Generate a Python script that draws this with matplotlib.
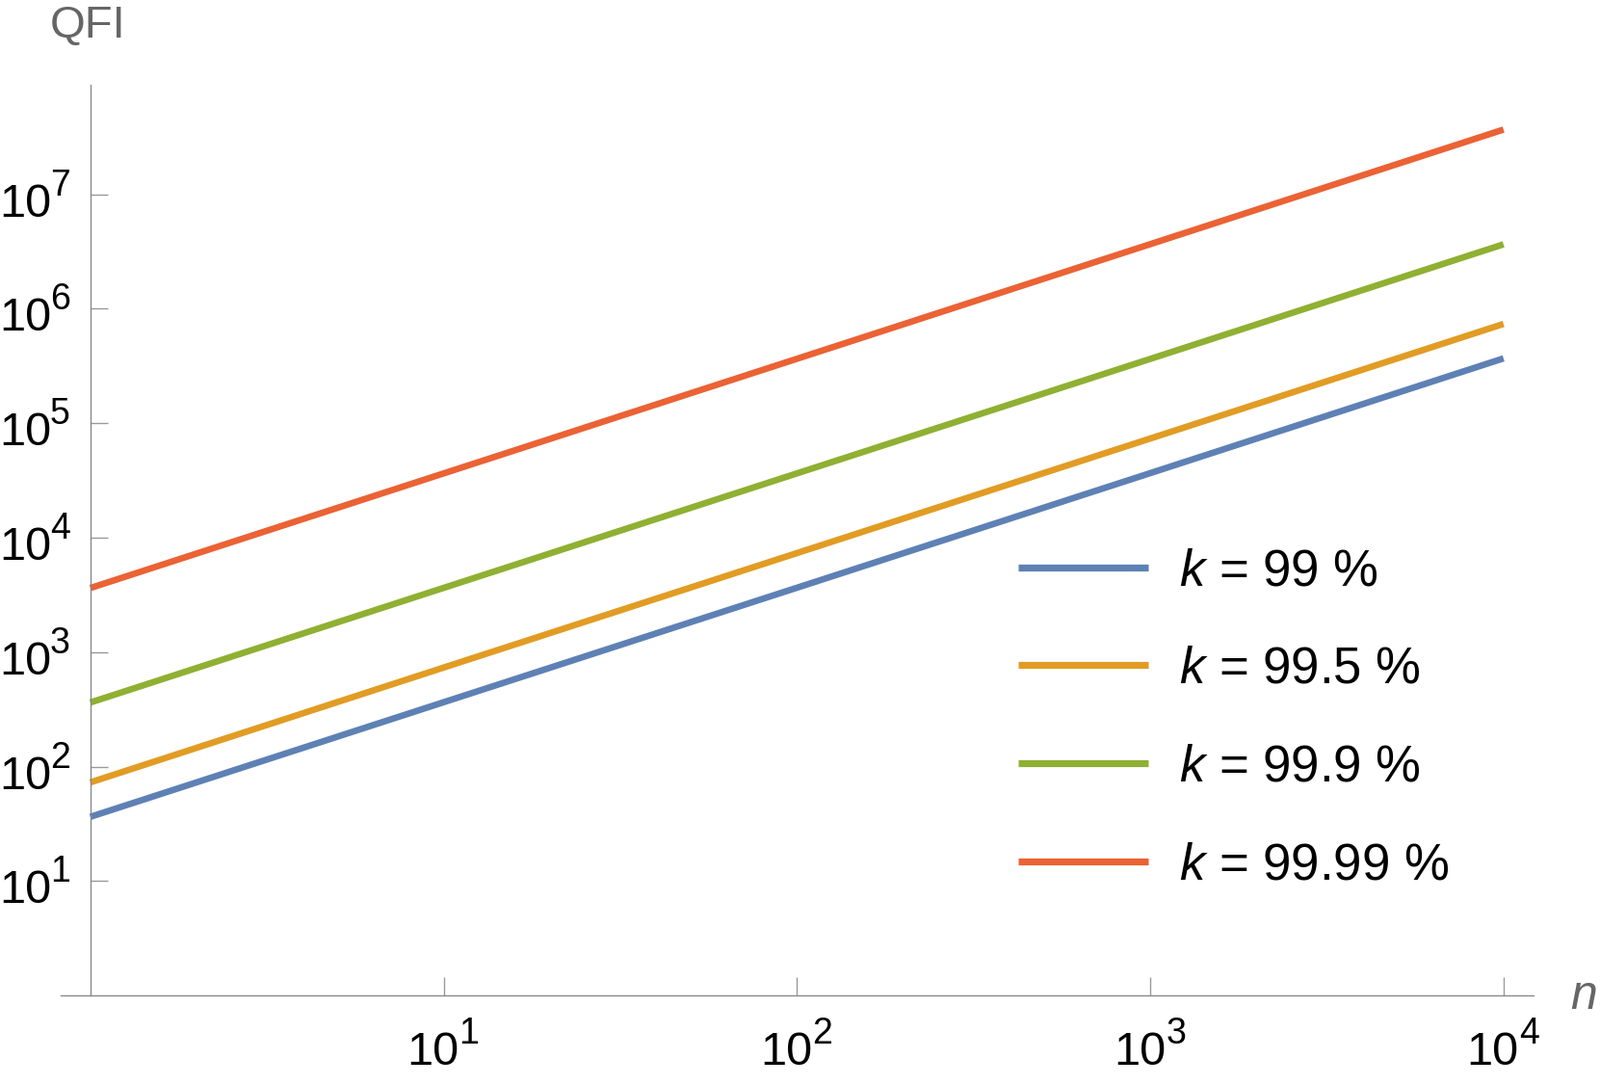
import matplotlib
matplotlib.use('Agg')
import matplotlib.pyplot as plt
from matplotlib.ticker import FixedLocator, NullLocator, NullFormatter

plt.rcParams['font.family'] = ['Liberation Sans', 'DejaVu Sans']
plt.rcParams['mathtext.fontset'] = 'custom'
plt.rcParams['mathtext.rm'] = 'Liberation Sans'
plt.rcParams['mathtext.it'] = 'Liberation Sans:italic'

# data
n = [1, 10, 100, 1000, 10000]
qfi_99 = [36.5, 366, 3660, 36700, 369000]
qfi_995 = [73, 735, 7350, 73600, 738000]
qfi_999 = [364, 3650, 36500, 365000, 3660000]
qfi_9999 = [3640, 36500, 366000, 3670000, 36800000]
labels = [r'$\mathit{k}$ = 99 %', r'$\mathit{k}$ = 99.5 %',
          r'$\mathit{k}$ = 99.9 %', r'$\mathit{k}$ = 99.99 %']
colors = ['#5E81B5', '#E19C24', '#8FB032', '#EB6235']
xtick_exp = [1, 2, 3, 4]
ytick_exp = [1, 2, 3, 4, 5, 6, 7]

W, H = 1661, 1126
fig = plt.figure(figsize=(W / 100, H / 100), dpi=100)
ax = fig.add_axes([63.5 / W, 1 - 1033.3 / H, (1592 - 63.5) / W, (1033.3 - 88) / H])

for ys, lab, c in zip([qfi_99, qfi_995, qfi_999, qfi_9999], labels, colors):
    ax.plot(n, ys, color=c, lw=4.8, label=lab, solid_capstyle='butt')

ax.set_xscale('log')
ax.set_yscale('log')
ax.set_xlim(10 ** -0.0826, 10 ** 4.085)
ax.set_ylim(1, 10 ** 7.957)

ax.spines['top'].set_visible(False)
ax.spines['right'].set_visible(False)
ax.spines['left'].set_position(('data', 1))
for s in ['left', 'bottom']:
    ax.spines[s].set_color('#888888')
    ax.spines[s].set_linewidth(1.0)

ax.xaxis.set_major_locator(FixedLocator([10.0 ** e for e in xtick_exp]))
ax.yaxis.set_major_locator(FixedLocator([10.0 ** e for e in ytick_exp]))
ax.xaxis.set_minor_locator(NullLocator())
ax.yaxis.set_minor_locator(NullLocator())
ax.xaxis.set_major_formatter(NullFormatter())
ax.yaxis.set_major_formatter(NullFormatter())
ax.tick_params(axis='x', direction='in', length=14, width=1, color='#999999')
ax.tick_params(axis='y', direction='in', length=13, width=1, color='#999999')

# tick labels in the 10^k style with a large superscript
base_fs, sup_fs = 35, 27
for e in ytick_exp:
    ax.annotate('10', xy=(1, 10.0 ** e), xycoords='data', xytext=(-40, -23),
                textcoords='offset pixels', ha='right', va='baseline', fontsize=base_fs)
    ax.annotate(str(e), xy=(1, 10.0 ** e), xycoords='data', xytext=(-42, -1),
                textcoords='offset pixels', ha='left', va='baseline', fontsize=sup_fs)
for e in xtick_exp:
    ax.annotate('10', xy=(10.0 ** e, 1), xycoords='data', xytext=(16, -72),
                textcoords='offset pixels', ha='right', va='baseline', fontsize=base_fs,
                annotation_clip=False)
    ax.annotate(str(e), xy=(10.0 ** e, 1), xycoords='data', xytext=(16, -50),
                textcoords='offset pixels', ha='left', va='baseline', fontsize=sup_fs,
                annotation_clip=False)

fig.text(52 / W, 1 - 27 / H, 'QFI', fontsize=34, color='#666666', ha='left', va='center')
fig.text(1630 / W, 1 - 1034 / H, 'n', fontsize=36, color='#666666', style='italic',
         ha='left', va='center')

leg = ax.legend(loc='upper left', bbox_to_anchor=(1057 / W, 1 - 568 / H),
                bbox_transform=fig.transFigure, frameon=False, fontsize=38,
                borderpad=0, borderaxespad=0, handlelength=2.55, handletextpad=0.62,
                labelspacing=0.98)
for line in leg.get_lines():
    line.set_linewidth(5.2)

fig.savefig('out.png', dpi=100)
